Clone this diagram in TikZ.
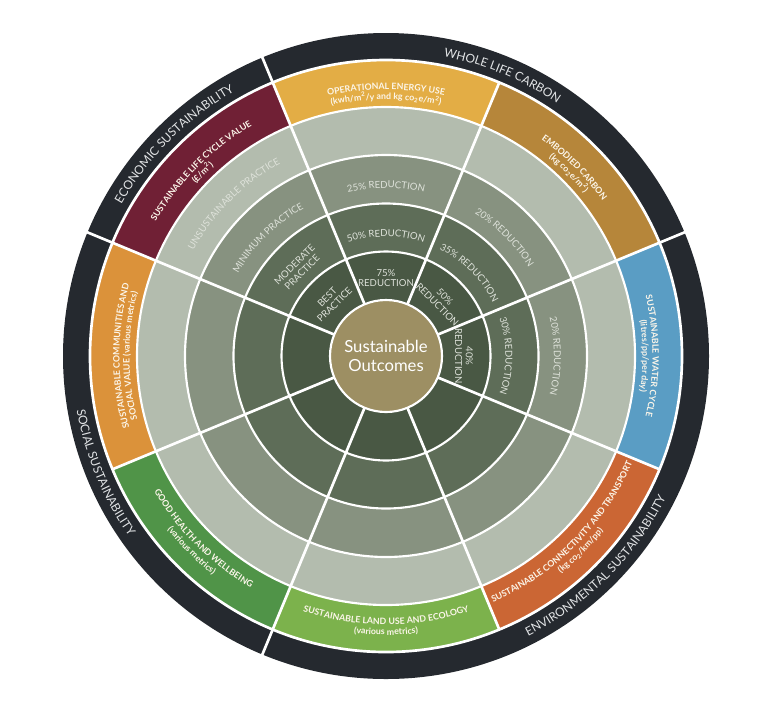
\documentclass[tikz,border=0pt]{standalone}
\usepackage{fontspec}
\setmainfont{Lato}
\usepackage{tikz}
\usetikzlibrary{decorations.text}

\definecolor{ringtxt}{RGB}{222,226,218}
\definecolor{bandtxt}{RGB}{252,246,234}
\definecolor{outertxt}{RGB}{226,228,230}
\newcommand{\bandfont}{\bfseries\fontsize{6.6}{7.8}\selectfont\color{bandtxt}}
\newcommand{\ringfont}{\fontsize{7.2}{8}\selectfont\color{ringtxt}}
\newcommand{\outerfont}{\fontsize{9}{11}\selectfont\color{outertxt}}

\begin{document}
\begin{tikzpicture}[x=0.75pt,y=0.75pt,yscale=-1,xscale=1,
    ringlbl/.style={text=ringtxt, font=\fontsize{7.2}{8}\selectfont, align=center, inner sep=0pt},
    bandcurve/.style={decorate, decoration={text along path, text align=center, text={|\bandfont|#1}}},
    ringcurve/.style={decorate, decoration={text along path, text align=center, text={|\ringfont|#1}}},
    outercurve/.style={decorate, decoration={text along path, text align=center, text={|\outerfont|#1}}},
    gapline/.style={draw=white, line width=2pt},
    ringline/.style={draw=white, line width=1.6pt}]
        %uncomment if require: \path (0,708); %set diagram left start at 0, and has height of 708
        \useasboundingbox (0,0) rectangle (774,708);
        \fill[white] (0,0) rectangle (774,708);

        \begin{scope}[shift={(386,356)},yscale=-1]
        %Shape: Outer Ring
        \fill[fill={rgb, 255:red, 37; green, 41; blue, 47 }] (0,0) circle (323);

        %Shape: Pie [Operational energy use]
        \fill[fill={rgb, 255:red, 227; green, 173; blue, 69 }] (0,0) -- (67.5:296) arc[start angle=67.5, end angle=112.5, radius=296] -- cycle;
        %Shape: Pie [Embodied carbon]
        \fill[fill={rgb, 255:red, 182; green, 134; blue, 58 }] (0,0) -- (22.5:296) arc[start angle=22.5, end angle=67.5, radius=296] -- cycle;
        %Shape: Pie [Water cycle]
        \fill[fill={rgb, 255:red, 90; green, 157; blue, 196 }] (0,0) -- (-22.5:296) arc[start angle=-22.5, end angle=22.5, radius=296] -- cycle;
        %Shape: Pie [Connectivity and transport]
        \fill[fill={rgb, 255:red, 203; green, 102; blue, 52 }] (0,0) -- (-67.5:296) arc[start angle=-67.5, end angle=-22.5, radius=296] -- cycle;
        %Shape: Pie [Land use and ecology]
        \fill[fill={rgb, 255:red, 124; green, 178; blue, 76 }] (0,0) -- (-112.5:296) arc[start angle=-112.5, end angle=-67.5, radius=296] -- cycle;
        %Shape: Pie [Health and wellbeing]
        \fill[fill={rgb, 255:red, 80; green, 148; blue, 72 }] (0,0) -- (-157.5:296) arc[start angle=-157.5, end angle=-112.5, radius=296] -- cycle;
        %Shape: Pie [Communities and social value]
        \fill[fill={rgb, 255:red, 219; green, 146; blue, 58 }] (0,0) -- (157.5:296) arc[start angle=157.5, end angle=202.5, radius=296] -- cycle;
        %Shape: Pie [Life cycle value]
        \fill[fill={rgb, 255:red, 112; green, 32; blue, 53 }] (0,0) -- (112.5:296) arc[start angle=112.5, end angle=157.5, radius=296] -- cycle;
        \draw[gapline] (0,0) circle (296);

        %Shape: Circles [practice rings]
        \fill[fill={rgb, 255:red, 179; green, 188; blue, 174 }] (0,0) circle (249);
        \fill[fill={rgb, 255:red, 135; green, 146; blue, 128 }] (0,0) circle (201);
        \fill[fill={rgb, 255:red, 94; green, 109; blue, 88 }] (0,0) circle (152.5);
        \fill[fill={rgb, 255:red, 73; green, 88; blue, 68 }] (0,0) circle (104.5);
        \draw[ringline] (0,0) circle (249);
        \draw[ringline] (0,0) circle (201);
        \draw[ringline] (0,0) circle (152.5);
        \draw[ringline] (0,0) circle (104.5);

        %Straight Lines [sector dividers]
        \draw[gapline] (22.5:56) -- (22.5:325);
        \draw[gapline] (67.5:56) -- (67.5:296);
        \draw[gapline] (112.5:56) -- (112.5:325);
        \draw[gapline] (157.5:56) -- (157.5:325);
        \draw[gapline] (202.5:56) -- (202.5:296);
        \draw[gapline] (247.5:56) -- (247.5:325);
        \draw[gapline] (292.5:56) -- (292.5:296);
        \draw[gapline] (337.5:56) -- (337.5:296);

        %Shape: Circle [centre]
        \draw[ringline, fill={rgb, 255:red, 157; green, 143; blue, 99 }] (0,0) circle (56);
        % Text Node
        \node[text=white, font=\fontsize{12.5}{14.3}\selectfont, align=center, inner sep=0pt] (outcomes) at (0,0) {Sustainable\\Outcomes};

        % Text [unsustainable ring]
        \path[ringcurve={UNSUSTAINABLE PRACTICE}] (165:219.5) arc[start angle=165, end angle=105, radius=219.5];
        % Text [minimum ring]
        \path[ringcurve={MINIMUM PRACTICE}] (165:169) arc[start angle=165, end angle=105, radius=169];
        \path[ringcurve={25{\%} REDUCTION}] (120:168) arc[start angle=120, end angle=60, radius=168];
        \path[ringcurve={20{\%} REDUCTION}] (75:168) arc[start angle=75, end angle=15, radius=168];
        \path[ringcurve={20{\%} REDUCTION}] (30:168) arc[start angle=30, end angle=-30, radius=168];
        % Text [moderate ring]
        \path[ringcurve={50{\%} REDUCTION}] (120:119.5) arc[start angle=120, end angle=60, radius=119.5];
        \path[ringcurve={35{\%} REDUCTION}] (75:119.5) arc[start angle=75, end angle=15, radius=119.5];
        \path[ringcurve={30{\%} REDUCTION}] (30:119.5) arc[start angle=30, end angle=-30, radius=119.5];
        \node[ringlbl, rotate=45] (modprac) at (135:124) {MODERATE\\PRACTICE};
        % Text Node [best ring]
        \node[ringlbl, rotate=45] (bestprac) at (135:78) {BEST\\PRACTICE};
        \node[ringlbl] (red75) at (90:78) {75\%\\REDUCTION};
        \node[ringlbl, rotate=-45] (red50) at (45:78) {50\%\\REDUCTION};
        \node[ringlbl, rotate=-90] (red40) at (0:78) {40\%\\REDUCTION};

        % Text [outcome bands, reading clockwise]
        \path[bandcurve={OPERATIONAL ENERGY USE}] (125:266.5) arc[start angle=125, end angle=55, radius=266.5];
        \path[bandcurve={(kwh/m{\textsuperscript{2}}/y and kg co{\textsubscript{2}}e/m{\textsuperscript{2}})}] (125:256.5) arc[start angle=125, end angle=55, radius=256.5];
        \path[bandcurve={EMBODIED CARBON}] (80:266.5) arc[start angle=80, end angle=10, radius=266.5];
        \path[bandcurve={(kg co{\textsubscript{2}}e/m{\textsuperscript{2}})}] (80:256.5) arc[start angle=80, end angle=10, radius=256.5];
        \path[bandcurve={SUSTAINABLE WATER CYCLE}] (35:266.5) arc[start angle=35, end angle=-35, radius=266.5];
        \path[bandcurve={(litres/pp/per day)}] (35:256.5) arc[start angle=35, end angle=-35, radius=256.5];
        \path[bandcurve={SUSTAINABLE LIFE CYCLE VALUE}] (170:266.5) arc[start angle=170, end angle=100, radius=266.5];
        \path[bandcurve={({£}/m{\textsuperscript{2}})}] (170:256.5) arc[start angle=170, end angle=100, radius=256.5];
        \path[bandcurve={SUSTAINABLE COMMUNITIES AND}] (215:266.5) arc[start angle=215, end angle=145, radius=266.5];
        \path[bandcurve={SOCIAL VALUE (various metrics)}] (215:256.5) arc[start angle=215, end angle=145, radius=256.5];
        % Text [outcome bands, reading anticlockwise]
        \path[bandcurve={SUSTAINABLE CONNECTIVITY AND TRANSPORT}] (-85:268.5) arc[start angle=-85, end angle=-5, radius=268.5];
        \path[bandcurve={(kg co{\textsubscript{2}}/km/pp)}] (-80:279) arc[start angle=-80, end angle=-10, radius=279];
        \path[bandcurve={SUSTAINABLE LAND USE AND ECOLOGY}] (-125:268.5) arc[start angle=-125, end angle=-55, radius=268.5];
        \path[bandcurve={(various metrics)}] (-125:279) arc[start angle=-125, end angle=-55, radius=279];
        \path[bandcurve={GOOD HEALTH AND WELLBEING}] (-170:268.5) arc[start angle=-170, end angle=-100, radius=268.5];
        \path[bandcurve={(various metrics)}] (-170:279) arc[start angle=-170, end angle=-100, radius=279];

        % Text [outer ring]
        \path[outercurve={WHOLE LIFE CARBON}] (97.5:305) arc[start angle=97.5, end angle=37.5, radius=305];
        \path[outercurve={ECONOMIC SUSTAINABILITY}] (165:305) arc[start angle=165, end angle=105, radius=305];
        \path[outercurve={SOCIAL SUSTAINABILITY}] (172.5:314) arc[start angle=172.5, end angle=232.5, radius=314];
        \path[outercurve={ENVIRONMENTAL SUSTAINABILITY}] (280:314) arc[start angle=280, end angle=350, radius=314];
        \end{scope}
\end{tikzpicture}
\end{document}
